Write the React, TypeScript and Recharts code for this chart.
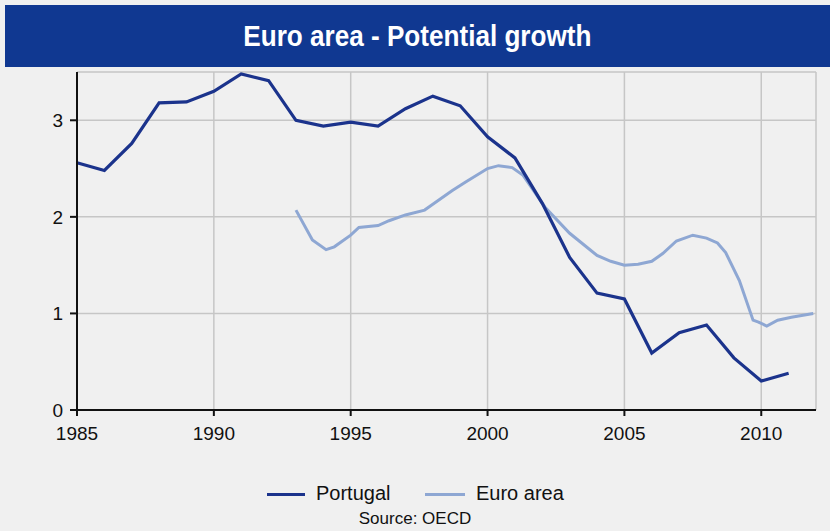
import { CartesianGrid, Line, LineChart, XAxis, YAxis } from "recharts";

// Portugal: annual points
const portugalYears = [1985, 1986, 1987, 1988, 1989, 1990, 1991, 1992, 1993, 1994, 1995, 1996, 1997, 1998, 1999, 2000, 2001, 2002, 2003, 2004, 2005, 2006, 2007, 2008, 2009, 2010, 2011];
const portugalValues = [2.56, 2.48, 2.76, 3.18, 3.19, 3.3, 3.48, 3.41, 3.0, 2.94, 2.98, 2.94, 3.12, 3.25, 3.15, 2.83, 2.61, 2.14, 1.58, 1.21, 1.15, 0.59, 0.8, 0.88, 0.54, 0.3, 0.38];

// Euro area: smoother series, read at finer steps
const euroYears = [1993, 1993.6, 1994.1, 1994.4, 1995, 1995.3, 1996, 1996.4, 1997, 1997.7, 1998, 1998.7, 1999.2, 2000, 2000.4, 2000.9, 2001.3, 2002.1, 2003, 2004, 2004.5, 2005, 2005.5, 2006, 2006.4, 2006.9, 2007.5, 2008, 2008.4, 2008.7, 2009.2, 2009.7, 2009.9, 2010.2, 2010.6, 2011.1, 2011.9];
const euroValues = [2.07, 1.76, 1.66, 1.69, 1.81, 1.89, 1.91, 1.96, 2.02, 2.07, 2.13, 2.27, 2.36, 2.5, 2.53, 2.51, 2.43, 2.1, 1.83, 1.6, 1.54, 1.5, 1.51, 1.54, 1.62, 1.75, 1.81, 1.78, 1.73, 1.63, 1.34, 0.93, 0.91, 0.87, 0.93, 0.96, 1.0];

const xTicks = [1985, 1990, 1995, 2000, 2005, 2010];
const yTicks = [0, 1, 2, 3];

const portugalData = portugalYears.map((year, i) => ({ year, value: portugalValues[i] }));
const euroData = euroYears.map((year, i) => ({ year, value: euroValues[i] }));

const FONT = "'Liberation Sans', Arial, sans-serif";
const DARK = "#1b338c";
const LIGHT = "#8ea7d3";

export default function App() {
  return (
    <div
      style={{
        position: "absolute",
        left: 0,
        top: 0,
        width: 830,
        height: 531,
        background: "#f0f0f0",
        fontFamily: FONT,
        overflow: "hidden",
      }}
    >
      <div
        style={{
          position: "absolute",
          left: 5,
          top: 5,
          width: 825,
          height: 62,
          background: "#103891",
          color: "#fff",
          display: "flex",
          alignItems: "center",
          justifyContent: "center",
        }}
      >
        <span style={{ fontWeight: 700, fontSize: 29, display: "inline-block", transform: "scaleX(0.9)" }}>
          Euro area - Potential growth
        </span>
      </div>

      <div style={{ position: "absolute", left: 0, top: 0 }}>
        <LineChart width={830} height={531} margin={{ top: 72, right: 14, left: 0, bottom: 81 }}>
          <CartesianGrid stroke="#c6c6c6" strokeWidth={1.5} />
          <XAxis
            dataKey="year"
            type="number"
            domain={[1985, 2012]}
            ticks={xTicks}
            allowDuplicatedCategory={false}
            height={40}
            stroke="#111"
            strokeWidth={2}
            tickSize={6}
            tickMargin={11}
            tick={{ fill: "#111", fontSize: 19, fontFamily: FONT }}
          />
          <YAxis
            type="number"
            domain={[0, 3.5]}
            ticks={yTicks}
            width={77}
            stroke="#111"
            strokeWidth={2}
            tickSize={7}
            tickMargin={7}
            tick={{ fill: "#111", fontSize: 19, fontFamily: FONT }}
          />
          <Line
            data={euroData}
            dataKey="value"
            type="linear"
            stroke={LIGHT}
            strokeWidth={3}
            dot={false}
            isAnimationActive={false}
          />
          <Line
            data={portugalData}
            dataKey="value"
            type="linear"
            stroke={DARK}
            strokeWidth={3.2}
            dot={false}
            isAnimationActive={false}
          />
        </LineChart>
      </div>

      <div style={{ position: "absolute", left: 267, top: 493, width: 38, height: 3, background: DARK }} />
      <div style={{ position: "absolute", left: 316, top: 482, fontSize: 20, color: "#111" }}>Portugal</div>
      <div style={{ position: "absolute", left: 425, top: 493, width: 40, height: 3, background: LIGHT }} />
      <div style={{ position: "absolute", left: 476, top: 482, fontSize: 20, color: "#111" }}>Euro area</div>
      <div style={{ position: "absolute", left: 0, width: 830, top: 509, textAlign: "center", fontSize: 17, color: "#111" }}>
        Source: OECD
      </div>
    </div>
  );
}
